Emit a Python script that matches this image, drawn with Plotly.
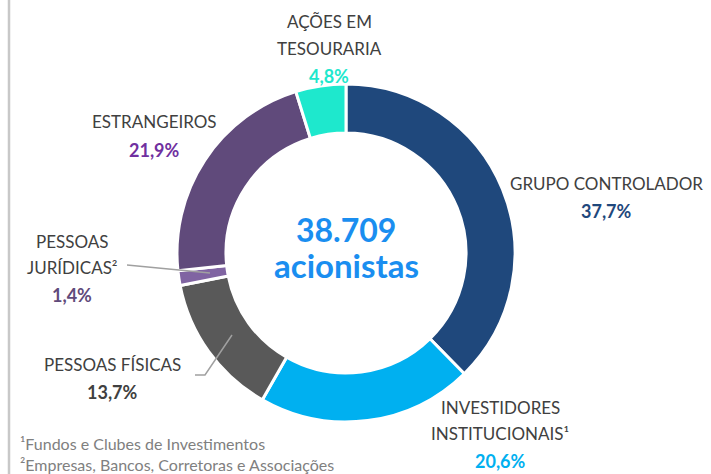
import plotly.graph_objects as go

W, H = 711, 474

categories = ["GRUPO CONTROLADOR", "INVESTIDORES INSTITUCIONAIS¹", "PESSOAS FÍSICAS",
              "PESSOAS JURÍDICAS²", "ESTRANGEIROS", "AÇÕES EM TESOURARIA"]
values = [37.7, 20.6, 13.7, 1.4, 21.9, 4.8]
value_labels = ["37,7%", "20,6%", "13,7%", "1,4%", "21,9%", "4,8%"]
slice_colors = ["#1f487c", "#00b0f0", "#595959", "#8064a2", "#604a7b", "#1ee8cd"]
pct_colors = ["#1f487c", "#00b0f0", "#404040", "#604a7b", "#7030a0", "#1ee8cd"]

total_holders = "38.709"
footnotes = ["¹Fundos e Clubes de Investimentos",
             "²Empresas, Bancos, Corretoras e Associações"]

# donut center / radius in pixels
cx, cy, R = 346, 253, 169
FONT = "Lato, Roboto, sans-serif"


def px(x):
    return x / W


def py(y):
    return 1 - y / H


fig = go.Figure(go.Pie(
    labels=categories,
    values=values,
    hole=0.71,
    sort=False,
    direction="clockwise",
    rotation=0,
    textinfo="none",
    hoverinfo="label+value",
    marker=dict(colors=slice_colors, line=dict(color="white", width=3)),
    domain=dict(x=[px(cx - R), px(cx + R)], y=[py(cy + R), py(cy - R)]),
    showlegend=False,
))

LABEL = dict(family=FONT, size=17, color="#404040")

# (text lines, percent index, x center, y of first line)
label_blocks = [
    (["GRUPO CONTROLADOR"], 0, 606, 183),
    (["INVESTIDORES", "INSTITUCIONAIS¹"], 1, 500, 407),
    (["PESSOAS FÍSICAS"], 2, 112, 364),
    (["PESSOAS", "JURÍDICAS²"], 3, 72, 241),
    (["ESTRANGEIROS"], 4, 154, 122),
    (["AÇÕES EM", "TESOURARIA"], 5, 329, 22),
]

annotations = []
for lines, idx, x, y in label_blocks:
    for i, line in enumerate(lines):
        annotations.append(dict(x=px(x), y=py(y + 26.5 * i), text=line, font=LABEL))
    annotations.append(dict(
        x=px(x), y=py(y + 26.5 * len(lines) + 1), text="<b>" + value_labels[idx] + "</b>",
        font=dict(family=FONT, size=18, color=pct_colors[idx])))

annotations.append(dict(x=px(cx), y=py(229), text="<b>" + total_holders + "</b>",
                        font=dict(family=FONT, size=32, color="#1a8ef0")))
annotations.append(dict(x=px(cx), y=py(265), text="<b>acionistas</b>",
                        font=dict(family=FONT, size=33, color="#1a8ef0")))

for i, t in enumerate(footnotes):
    annotations.append(dict(x=px(18), y=py(443 + 21 * i), text=t, xanchor="left",
                            font=dict(family=FONT, size=16, color="#808080")))

for a in annotations:
    a.update(xref="paper", yref="paper", showarrow=False)
    a.setdefault("xanchor", "center")
    a["yanchor"] = "middle"

shapes = [
    # left frame line
    dict(type="line", x0=px(9), x1=px(9), y0=0, y1=1, line=dict(color="#c8c8c8", width=2.5)),
    # leader lines
    dict(type="line", x0=px(127), y0=py(265), x1=px(210), y1=py(273),
         line=dict(color="#a0a0a0", width=1.5)),
    dict(type="path", path=f"M {px(195)} {py(375)} L {px(205)} {py(375)} L {px(232)} {py(335)}",
         line=dict(color="#a0a0a0", width=1.5)),
]
for s in shapes:
    s.update(xref="paper", yref="paper")

fig.update_layout(
    width=W, height=H,
    margin=dict(l=0, r=0, t=0, b=0),
    paper_bgcolor="white",
    plot_bgcolor="white",
    annotations=annotations,
    shapes=shapes,
)

# drop the browser's default body margin so the figure sits at the page origin
fig.write_html("out.html", config=dict(displayModeBar=False),
               post_script="document.body.style.margin='0';")
